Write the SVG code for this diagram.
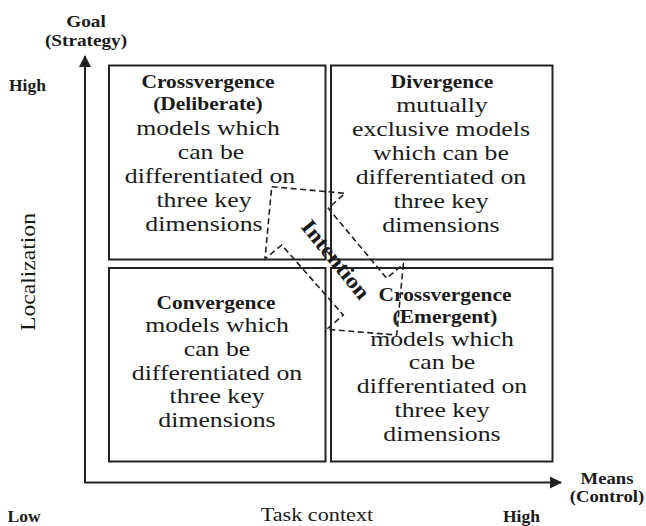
<svg xmlns="http://www.w3.org/2000/svg" width="646" height="526" viewBox="0 0 646 526">
  <style>
    text { font-family: "Liberation Serif", "Times New Roman", serif; fill: #1a1a1a; text-anchor: middle; }
    .body { font-size: 22px; transform-box: fill-box; transform-origin: center; transform: scaleX(1.17); }
    .bold { font-size: 19.5px; font-weight: bold; transform-box: fill-box; transform-origin: center; transform: scaleX(1.1); }
    .axl { font-size: 17.5px; font-weight: bold; text-anchor: start; }
    .box { fill: #fff; stroke: #222; stroke-width: 2; }
    .axis { stroke: #222; stroke-width: 2; fill: none; }
    .dash { fill: none; stroke: #222; stroke-width: 1.6; stroke-dasharray: 6 3.5; stroke-linejoin: miter; }
  </style>
  <defs>
    <marker id="head" markerWidth="12" markerHeight="12" refX="11" refY="6" orient="auto" markerUnits="userSpaceOnUse">
      <path d="M0,0 L12,6 L0,12 Z" fill="#222"/>
    </marker>
  </defs>

  <!-- axes -->
  <g id="connectors">
    <path class="axis" d="M85,483 L85,56" marker-end="url(#head)"/>
    <path class="axis" d="M84,482.5 L561,482.5" marker-end="url(#head)"/>
  </g>

  <!-- quadrant: deliberate crossvergence -->
  <g id="crossvergence-deliberate">
    <rect class="box" x="109" y="65.5" width="216.5" height="194"/>
    <text class="bold" x="208" y="88">Crossvergence</text>
    <text class="bold" x="208" y="110">(Deliberate)</text>
    <text class="body" x="208" y="135">models which</text>
    <text class="body" x="211" y="159">can be</text>
    <text class="body" x="210" y="183">differentiated on</text>
    <text class="body" x="204" y="207">three key</text>
    <text class="body" x="204" y="231">dimensions</text>
  </g>

  <!-- quadrant: divergence -->
  <g id="divergence">
    <rect class="box" x="331" y="65.5" width="221.5" height="194"/>
    <text class="bold" x="442" y="88">Divergence</text>
    <text class="body" x="442" y="112">mutually</text>
    <text class="body" x="441" y="136">exclusive models</text>
    <text class="body" x="441" y="160">which can be</text>
    <text class="body" x="441" y="184">differentiated on</text>
    <text class="body" x="441" y="208">three key</text>
    <text class="body" x="441" y="232">dimensions</text>
  </g>

  <!-- quadrant: convergence -->
  <g id="convergence">
    <rect class="box" x="109" y="268" width="216.5" height="193.5"/>
    <text class="bold" x="216" y="309">Convergence</text>
    <text class="body" x="217" y="332">models which</text>
    <text class="body" x="217" y="356">can be</text>
    <text class="body" x="217" y="380">differentiated on</text>
    <text class="body" x="217" y="403">three key</text>
    <text class="body" x="217" y="427">dimensions</text>
  </g>

  <!-- quadrant: emergent crossvergence -->
  <g id="crossvergence-emergent">
    <rect class="box" x="331" y="268" width="221.5" height="193.5"/>
    <text class="bold" x="445" y="301">Crossvergence</text>
    <text class="bold" x="445" y="323">(Emergent)</text>
    <text class="body" x="442" y="346">models which</text>
    <text class="body" x="442" y="369">can be</text>
    <text class="body" x="442" y="393">differentiated on</text>
    <text class="body" x="442" y="417">three key</text>
    <text class="body" x="442" y="441">dimensions</text>
  </g>

  <!-- double-headed intention arrow -->
  <g id="intention">
    <path class="dash" d="M271.7,186.7 L345,193.3 L328.3,208.3 L386.7,278.3 L403.3,264 L396.7,335 L326.7,329.3 L343.3,315 L281.7,245 L265,259 Z"/>
    <g transform="translate(330,264) rotate(51)">
      <text class="bold" x="0" y="0" style="font-size:22px">Intention</text>
    </g>
  </g>

  <!-- axis labels -->
  <g id="axis-labels">
    <text class="bold" x="86" y="27" style="font-size:17.5px">Goal</text>
    <text class="bold" x="86" y="46" style="font-size:17.5px">(Strategy)</text>
    <text class="axl" x="9" y="91">High</text>
    <text class="axl" x="7.5" y="521.5">Low</text>
    <text class="axl" x="503" y="521.5">High</text>
    <text class="bold" x="607" y="484" style="font-size:17px">Means</text>
    <text class="bold" x="607" y="502" style="font-size:17px">(Control)</text>
    <text class="body" x="317" y="521.5" style="font-size:19px">Task context</text>
    <text transform="translate(35,272) rotate(-90) scale(1.18,1)" x="0" y="0" style="font-size:20px">Localization</text>
  </g>
</svg>
